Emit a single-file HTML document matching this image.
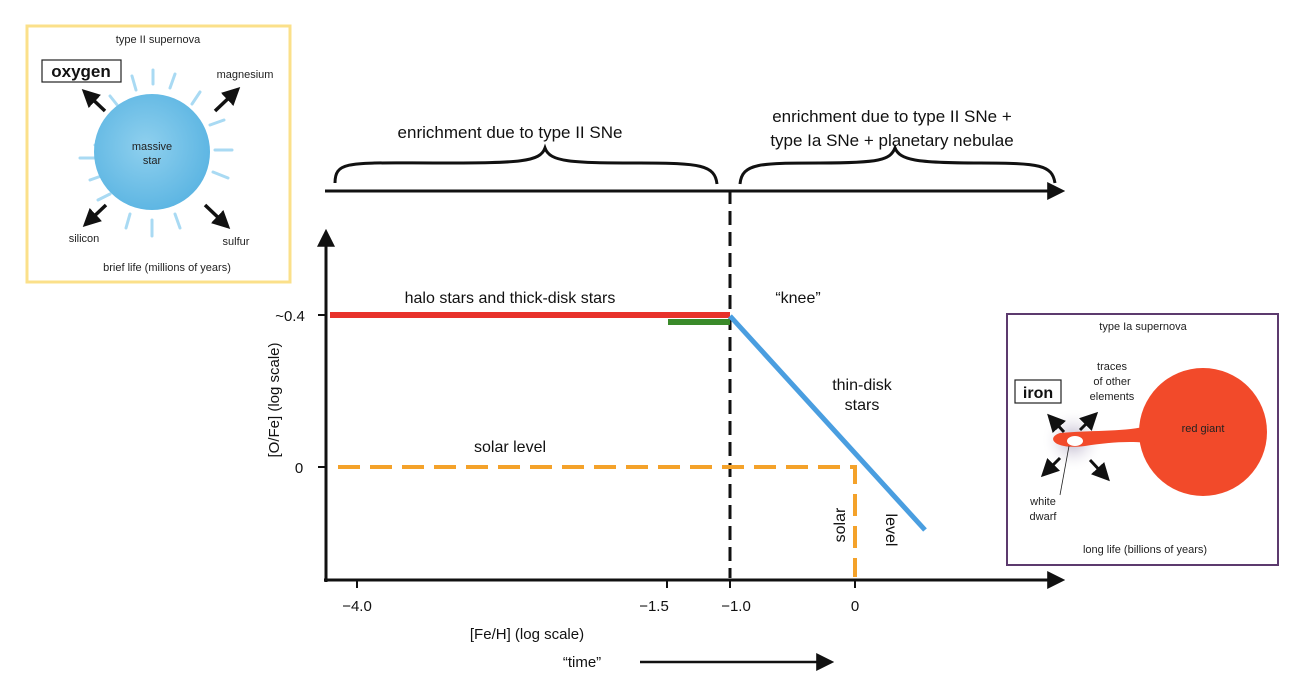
<!DOCTYPE html>
<html><head><meta charset="utf-8"><style>
html,body{margin:0;padding:0;background:#fff}
svg{display:block;font-family:"Liberation Sans",sans-serif}
</style></head><body>
<svg width="1305" height="677" viewBox="0 0 1305 677" xmlns="http://www.w3.org/2000/svg">
<defs>
<marker id="ah" markerWidth="10" markerHeight="10" refX="8" refY="5" orient="auto" markerUnits="userSpaceOnUse"><path d="M0,0 L10,5 L0,10 z" fill="#111"/></marker>
<marker id="ab" viewBox="0 0 10 10" markerWidth="18" markerHeight="18" refX="6" refY="5" orient="auto" markerUnits="userSpaceOnUse"><path d="M0,0 L10,5 L0,10 z" fill="#111"/></marker>
<radialGradient id="bl" cx="0.45" cy="0.45" r="0.6"><stop offset="0" stop-color="#8fd0ee"/><stop offset="1" stop-color="#5ab4e2"/></radialGradient>
<radialGradient id="gl" cx="0.5" cy="0.5" r="0.5"><stop offset="0" stop-color="#b8b0c8"/><stop offset="1" stop-color="#fff" stop-opacity="0"/></radialGradient>
</defs>

<!-- left box -->
<rect x="27" y="26" width="263" height="256" fill="#fff" stroke="#fbe08a" stroke-width="3"/>
<text x="158" y="43" font-size="11" text-anchor="middle" fill="#222">type II supernova</text>
<rect x="42" y="60" width="79" height="22" fill="#fff" stroke="#222" stroke-width="1.2"/>
<text x="81" y="77" font-size="17" font-weight="bold" text-anchor="middle" fill="#111">oxygen</text>
<text x="245" y="78" font-size="11" text-anchor="middle" fill="#222">magnesium</text>
<g stroke="#a9daf3" stroke-width="3" stroke-linecap="round">
<line x1="153" y1="70" x2="153" y2="84"/><line x1="175" y1="74" x2="170" y2="88"/><line x1="132" y1="76" x2="136" y2="90"/>
<line x1="95" y1="145" x2="108" y2="148"/><line x1="80" y1="158" x2="96" y2="158"/><line x1="210" y1="125" x2="224" y2="120"/>
<line x1="215" y1="150" x2="232" y2="150"/><line x1="213" y1="172" x2="228" y2="178"/><line x1="90" y1="180" x2="104" y2="175"/>
<line x1="152" y1="220" x2="152" y2="236"/><line x1="130" y1="214" x2="126" y2="228"/><line x1="175" y1="214" x2="180" y2="228"/>
<line x1="200" y1="92" x2="192" y2="104"/><line x1="110" y1="96" x2="118" y2="106"/><line x1="98" y1="200" x2="110" y2="194"/>
</g>
<circle cx="152" cy="152" r="58" fill="url(#bl)"/>
<text x="152" y="150" font-size="11" text-anchor="middle" fill="#222">massive</text>
<text x="152" y="164" font-size="11" text-anchor="middle" fill="#222">star</text>
<g stroke="#111" stroke-width="3.5">
<line x1="105" y1="111" x2="87" y2="94" marker-end="url(#ab)"/>
<line x1="215" y1="111" x2="235" y2="92" marker-end="url(#ab)"/>
<line x1="106" y1="205" x2="88" y2="222" marker-end="url(#ab)"/>
<line x1="205" y1="205" x2="225" y2="224" marker-end="url(#ab)"/>
</g>
<text x="84" y="242" font-size="11" text-anchor="middle" fill="#222">silicon</text>
<text x="236" y="245" font-size="11" text-anchor="middle" fill="#222">sulfur</text>
<text x="167" y="271" font-size="11" text-anchor="middle" fill="#222">brief life (millions of years)</text>

<!-- right box -->
<rect x="1007" y="314" width="271" height="251" fill="#fff" stroke="#5c3a6e" stroke-width="2"/>
<text x="1143" y="330" font-size="11" text-anchor="middle" fill="#222">type Ia supernova</text>
<circle cx="1073" cy="440" r="32" fill="url(#gl)"/>
<circle cx="1203" cy="432" r="64" fill="#f24a2a"/>
<path d="M1150,425 C1130,432 1090,430 1060,433 C1045,438 1055,450 1085,446 C1110,442 1140,440 1155,445 z" fill="#f24a2a"/>
<ellipse cx="1075" cy="441" rx="8" ry="5" fill="#fff"/>
<rect x="1015" y="380" width="46" height="23" fill="#fff" stroke="#222" stroke-width="1.2"/>
<text x="1038" y="398" font-size="16" font-weight="bold" text-anchor="middle" fill="#111">iron</text>
<text x="1112" y="370" font-size="11" text-anchor="middle" fill="#222">traces</text>
<text x="1112" y="385" font-size="11" text-anchor="middle" fill="#222">of other</text>
<text x="1112" y="400" font-size="11" text-anchor="middle" fill="#222">elements</text>
<text x="1203" y="432" font-size="11" text-anchor="middle" fill="#222">red giant</text>
<g stroke="#111" stroke-width="3">
<line x1="1064" y1="432" x2="1052" y2="419" marker-end="url(#ab)"/>
<line x1="1080" y1="430" x2="1093" y2="417" marker-end="url(#ab)"/>
<line x1="1060" y1="458" x2="1046" y2="472" marker-end="url(#ab)"/>
<line x1="1090" y1="460" x2="1105" y2="476" marker-end="url(#ab)"/>
</g>
<line x1="1069" y1="446" x2="1060" y2="495" stroke="#222" stroke-width="0.8"/>
<text x="1043" y="505" font-size="11" text-anchor="middle" fill="#222">white</text>
<text x="1043" y="520" font-size="11" text-anchor="middle" fill="#222">dwarf</text>
<text x="1145" y="553" font-size="11" text-anchor="middle" fill="#222">long life (billions of years)</text>

<!-- top labels and braces -->
<text x="510" y="138" font-size="17" text-anchor="middle" fill="#111">enrichment due to type II SNe</text>
<text x="892" y="122" font-size="17" text-anchor="middle" fill="#111">enrichment due to type II SNe +</text>
<text x="892" y="146" font-size="17" text-anchor="middle" fill="#111">type Ia SNe + planetary nebulae</text>
<path d="M335,183 C335,160 350,163 440,163 C520,163 540,162 545,148 C550,162 570,163 640,163 C700,163 715,165 717,184" fill="none" stroke="#111" stroke-width="3"/>
<path d="M740,184 C742,163 760,163 820,163 C880,163 890,160 895,148 C900,160 915,163 980,163 C1040,163 1052,165 1055,183" fill="none" stroke="#111" stroke-width="3"/>
<line x1="325" y1="191" x2="1058" y2="191" stroke="#111" stroke-width="3" marker-end="url(#ab)"/>

<!-- axes -->
<line x1="326" y1="582" x2="326" y2="236" stroke="#111" stroke-width="3" marker-end="url(#ab)"/>
<line x1="324" y1="580" x2="1058" y2="580" stroke="#111" stroke-width="3" marker-end="url(#ab)"/>
<g stroke="#111" stroke-width="2">
<line x1="357" y1="580" x2="357" y2="588"/><line x1="667" y1="580" x2="667" y2="588"/>
<line x1="730" y1="580" x2="730" y2="588"/><line x1="855" y1="580" x2="855" y2="588"/>
<line x1="318" y1="315" x2="326" y2="315"/><line x1="318" y1="467" x2="326" y2="467"/>
</g>
<g font-size="15" fill="#111" text-anchor="middle">
<text x="357" y="611">−4.0</text><text x="654" y="611">−1.5</text><text x="736" y="611">−1.0</text><text x="855" y="611">0</text>
<text x="290" y="321">~0.4</text><text x="299" y="473">0</text>
<text x="527" y="639">[Fe/H] (log scale)</text>
<text x="582" y="667">“time”</text>
<text transform="translate(279,400) rotate(-90)">[O/Fe]  (log scale)</text>
</g>
<line x1="640" y1="662" x2="827" y2="662" stroke="#111" stroke-width="2.5" marker-end="url(#ab)"/>

<!-- data lines -->
<line x1="730" y1="190" x2="730" y2="578" stroke="#111" stroke-width="3" stroke-dasharray="14,7"/>
<line x1="668" y1="322" x2="730" y2="322" stroke="#3a8a2a" stroke-width="6"/>
<line x1="330" y1="315" x2="730" y2="315" stroke="#e8322b" stroke-width="6"/>
<line x1="730" y1="316" x2="925" y2="530" stroke="#4a9ee0" stroke-width="5"/>
<path d="M338,467 L855,467 L855,577" fill="none" stroke="#f4a22a" stroke-width="4" stroke-dasharray="22,10"/>
<g font-size="16" fill="#111">
<text x="510" y="303" text-anchor="middle">halo stars and thick-disk stars</text>
<text x="798" y="303" text-anchor="middle">“knee”</text>
<text x="862" y="390" text-anchor="middle">thin-disk</text>
<text x="862" y="410" text-anchor="middle">stars</text>
<text x="510" y="452" text-anchor="middle">solar level</text>
<text transform="translate(845,525) rotate(-90)" text-anchor="middle">solar</text>
<text transform="translate(886,530) rotate(90)" text-anchor="middle">level</text>
</g>
</svg>
</body></html>
